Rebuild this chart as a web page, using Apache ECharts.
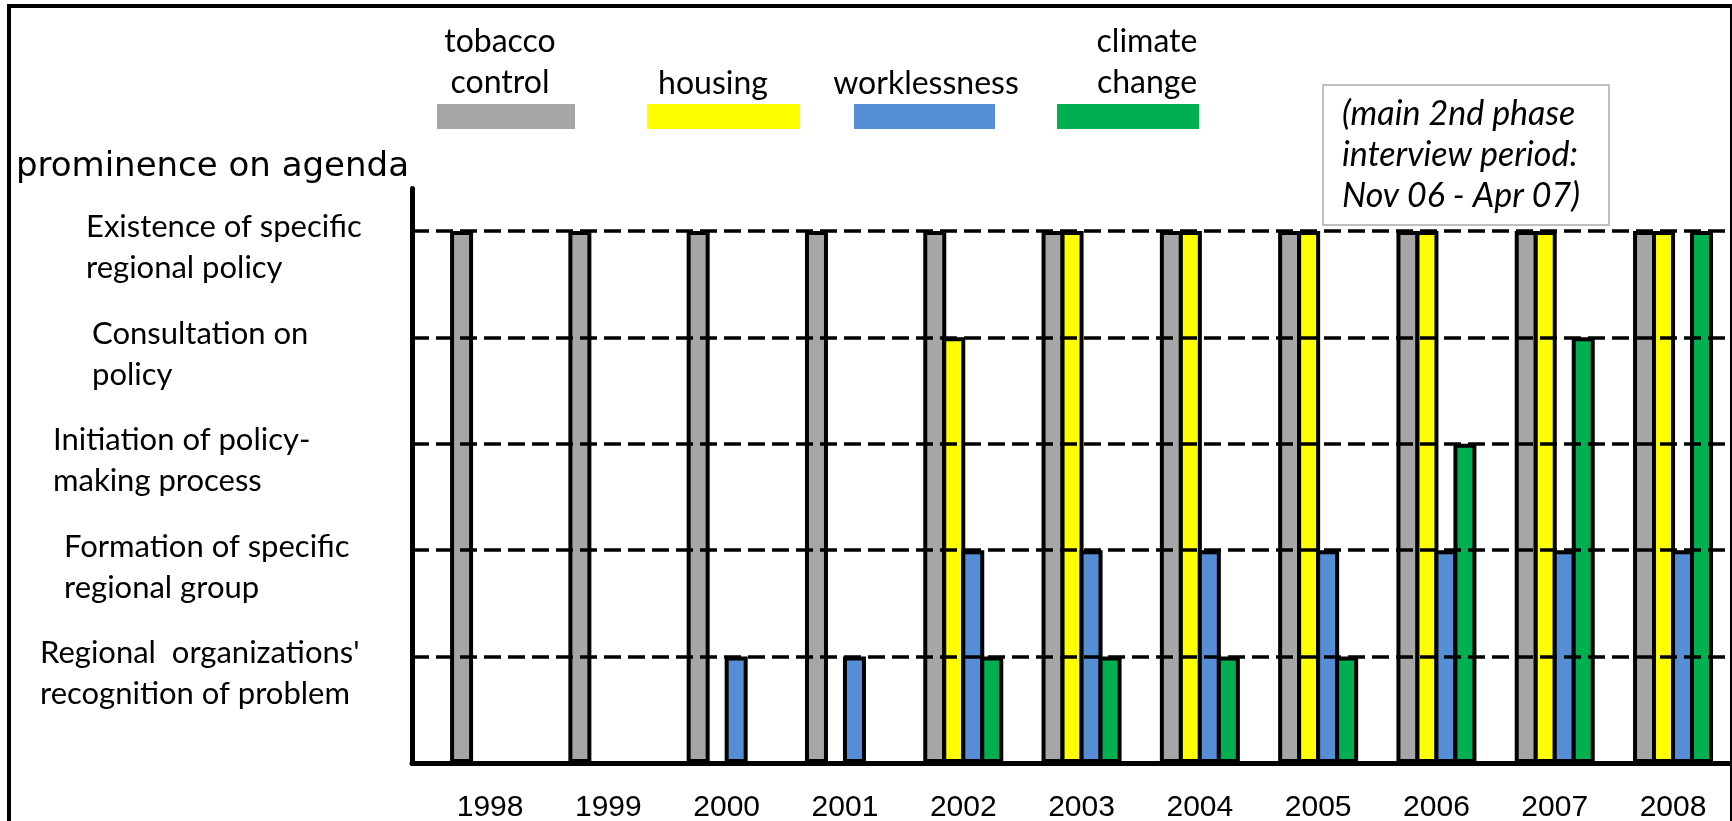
<!DOCTYPE html>
<html><head><meta charset="utf-8">
<script src="https://cdn.jsdelivr.net/npm/echarts@6/dist/echarts.min.js"></script>
<style>
html,body{margin:0;padding:0;background:#fff;overflow:hidden;width:1732px;height:821px}
#chart{position:absolute;left:0;top:0;width:1732px;height:821px}
#frame{position:absolute;left:7px;top:4px;width:1725px;height:900px;box-sizing:border-box;border-left:4px solid #000;border-top:4px solid #000;border-right:2px solid #000;pointer-events:none}
</style></head><body>
<div id="chart"></div><div id="frame"></div>
<script>
// ---- data ----
const years = [1998, 1999, 2000, 2001, 2002, 2003, 2004, 2005, 2006, 2007, 2008];
const tobacco = [5, 5, 5, 5, 5, 5, 5, 5, 5, 5, 5];
const housing = [0, 0, 0, 0, 4, 5, 5, 5, 5, 5, 5];
const worklessness = [0, 0, 1, 1, 2, 2, 2, 2, 2, 2, 2];
const climate = [0, 0, 0, 0, 1, 1, 1, 1, 3, 4, 5];
const seriesNames = ['tobacco control', 'housing', 'worklessness', 'climate change'];
const legendLabels = ['tobacco\ncontrol', 'housing', 'worklessness', 'climate\nchange'];
const levelLabels = [
  "Regional  organizations'\nrecognition of problem",
  "Formation of specific\nregional group",
  "Initiation of policy-\nmaking process",
  "Consultation on\npolicy",
  "Existence of specific\nregional policy"
];
const axisTitle = 'prominence on agenda';
const noteText = '(main 2nd phase\ninterview period:\nNov 06 - Apr 07)';

// ---- styles / layout ----
const colors = ['#a6a6a6', '#ffff00', '#558ed5', '#00b050'];
const legendLeft = [437, 647, 854, 1057];
const legendWidth = [138, 153, 141, 142];
const legendTextX = [500, 713, 926, 1147];
const labelIndent = [0, 24, 13, 52, 46];
const calibriLike = 'Lato';

const seriesValues = [tobacco, housing, worklessness, climate];

const rich = {};
labelIndent.forEach((p, i) => {
  rich['l' + i] = { fontFamily: calibriLike, fontSize: 31, lineHeight: 41, color: '#000', padding: [0, 0, 0, p] };
});

const chart = echarts.init(document.getElementById('chart'), null, { renderer: 'canvas' });
chart.setOption({
  animation: false,
  grid: { left: 412, right: 1, top: 188.4, bottom: 58, containLabel: false, outerBoundsMode: 'none' },
  title: legendLabels.map((t, k) => ({
    text: t, left: legendTextX[k], top: t.indexOf('\n') >= 0 ? 21 : 63, textAlign: 'center', padding: 0,
    textStyle: { fontFamily: calibriLike, fontWeight: 'normal', fontSize: 32, lineHeight: 41, color: '#000' }
  })).concat([{
    text: noteText, left: 1323, top: 85, padding: [9, 29, 8, 19],
    borderColor: '#bfbfbf', borderWidth: 2, backgroundColor: '#fff',
    textStyle: { fontFamily: calibriLike, fontStyle: 'italic', fontWeight: 'normal', fontSize: 34, lineHeight: 41, color: '#000' }
  }]),
  legend: seriesNames.map((n, k) => ({
    data: [n], left: legendLeft[k], top: 104, padding: 0, itemWidth: legendWidth[k], itemHeight: 25,
    icon: 'rect', formatter: () => '', selectedMode: false, itemStyle: { borderWidth: 0 }
  })),
  xAxis: {
    type: 'value', min: 1997.34, max: 2008.49,
    axisLine: { show: true, onZero: false, lineStyle: { color: '#000', width: 5 } },
    axisTick: { show: false }, splitLine: { show: false },
    axisLabel: { customValues: years, formatter: v => String(v), fontFamily: 'Liberation Sans', fontSize: 30, color: '#000', margin: 30 }
  },
  yAxis: {
    type: 'value', min: 0, max: 5.4, interval: 1,
    axisLine: { show: true, onZero: false, lineStyle: { color: '#000', width: 5 } },
    axisTick: { show: false }, splitLine: { show: false },
    name: axisTitle, nameLocation: 'end', nameGap: 21,
    nameTextStyle: { fontFamily: 'DejaVu Sans', fontSize: 34, color: '#000', align: 'right', verticalAlign: 'middle', padding: [0, 3, 0, 0] },
    axisLabel: {
      align: 'left', margin: 372, padding: [34, 0, 0, 0], rich: rich,
      formatter: v => {
        const r = Math.round(v);
        if (Math.abs(v - r) > 1e-6 || r < 1 || r > levelLabels.length) return '';
        return levelLabels[r - 1].split('\n').map(l => '{l' + (r - 1) + '|' + l + '}').join('\n');
      }
    }
  },
  series: seriesValues.map((vals, k) => ({
    name: seriesNames[k], type: 'bar', barWidth: 23, barGap: '-17.4%',
    data: years.map((y, i) => [y, vals[i]]),
    itemStyle: { color: colors[k], borderColor: '#000', borderWidth: 4 },
    emphasis: { disabled: true },
    markLine: k === seriesValues.length - 1 ? {
      silent: true, symbol: ['none', 'none'], label: { show: false },
      lineStyle: { color: '#000', width: 3.5, type: [17, 7] },
      data: levelLabels.map((_, i) => ({ yAxis: i + 1 }))
    } : undefined
  }))
});
</script>
</body></html>
